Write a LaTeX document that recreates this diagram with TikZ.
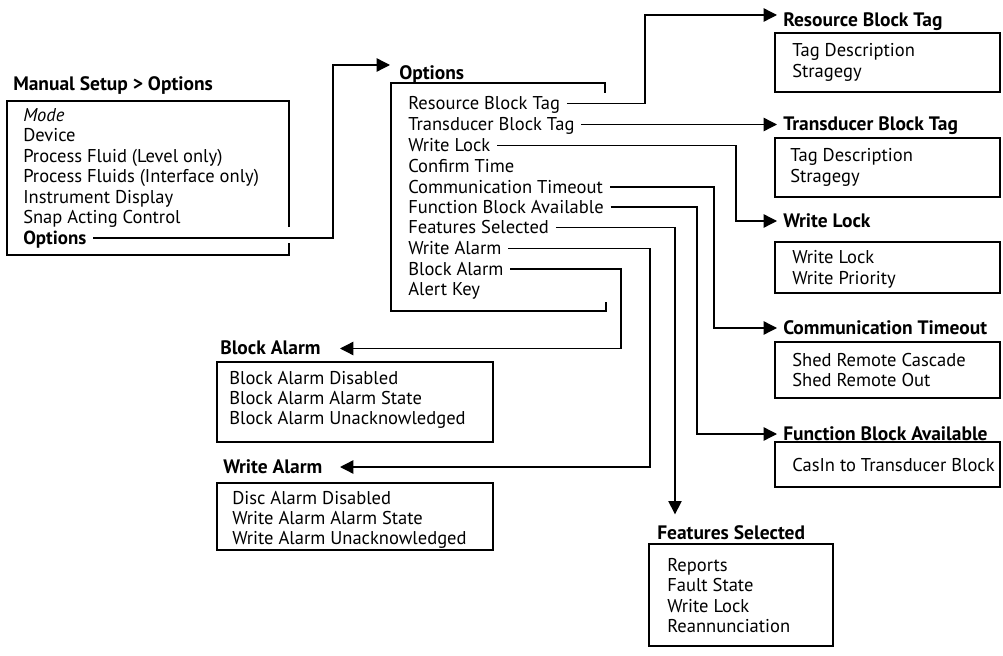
\documentclass[tikz,border=0pt]{standalone}
\usepackage{fontspec}
\setmainfont{PT Sans}
\usetikzlibrary{arrows.meta}
\begin{document}
\begin{tikzpicture}[x=0.75pt,y=-0.75pt,
  txt/.style={anchor=west, inner sep=0pt, text height=9.6pt, text depth=0pt,
    font=\fontsize{13.9}{16}\selectfont},
  head/.style={txt, font=\fontsize{14.6}{16}\selectfont\bfseries},
  frame/.style={line width=1pt},
  conn/.style={line width=1pt, shorten <=5pt},
  arr/.style={conn, -{Triangle[length=10pt,width=10pt]}},
  line join=miter]
\useasboundingbox (0,0) rectangle (1003,656);

% bend points and arrow tip columns
\coordinate (cOpt) at (333,0);
\coordinate (cRBT) at (645,0);
\coordinate (cWL)  at (736,0);
\coordinate (cCT)  at (714,0);
\coordinate (cFBA) at (697,0);
\coordinate (cFS)  at (675,0);
\coordinate (cWA)  at (650,0);
\coordinate (cBA)  at (621,0);
\coordinate (tipR) at (777,0);
\coordinate (tipL) at (340,0);
\coordinate (tipO) at (390,65);

% Manual Setup > Options menu
\node[head] (hMS) at (13,84) {Manual Setup > Options};
\node[txt] (mMode) at (23,115) {\itshape Mode};
\node[txt] (mDev)  at (23,135.5) {Device};
\node[txt] (mPF)   at (23,156) {Process Fluid (Level only)};
\node[txt] (mPFs)  at (23,176.5) {Process Fluids (Interface only)};
\node[txt] (mID)   at (23,197) {Instrument Display};
\node[txt] (mSAC)  at (23,217.5) {Snap Acting Control};
\node[txt,font=\fontsize{14.2}{16}\selectfont\bfseries] (mOpt) at (23,238) {Options};
\draw[frame] (289,227) -- (289,101) -- (7,101) -- (7,255) -- (289,255) -- (289,243);

% Options menu
\node[head] (hOpt) at (399,73.5) {Options};
\node[txt] (oRBT) at (408,103.5) {Resource Block Tag};
\node[txt] (oTBT) at (408,124.5) {Transducer Block Tag};
\node[txt] (oWL)  at (408,145.5) {Write Lock};
\node[txt] (oCfT) at (408,166)   {Confirm Time};
\node[txt] (oCT)  at (408,187)   {Communication Timeout};
\node[txt] (oFBA) at (408,207)   {Function Block Available};
\node[txt] (oFS)  at (408,227.5) {Features Selected};
\node[txt] (oWA)  at (408,248.5) {Write Alarm};
\node[txt] (oBA)  at (408,269)   {Block Alarm};
\node[txt] (oAK)  at (408,289.5) {Alert Key};
\draw[frame] (605,93) -- (605,83) -- (391,83) -- (391,311) -- (606,311) -- (606,302);

% Resource Block Tag
\node[head] (hRBT) at (783,20) {Resource Block Tag};
\draw[frame] (775,33) rectangle (1000,92);
\node[txt] (rb1) at (792,50) {Tag Description};
\node[txt] (rb2) at (792,71) {Stragegy};

% Transducer Block Tag
\node[head] (hTBT) at (783,124.5) {Transducer Block Tag};
\draw[frame] (775,138) rectangle (1000,197);
\node[txt] (tb1) at (790,155) {Tag Description};
\node[txt] (tb2) at (790,176) {Stragegy};

% Write Lock
\node[head] (hWL) at (783,221) {Write Lock};
\draw[frame] (775,242) rectangle (1000,293);
\node[txt] (wl1) at (792,257) {Write Lock};
\node[txt] (wl2) at (792,278) {Write Priority};

% Communication Timeout
\node[head] (hCT) at (783,328) {Communication Timeout};
\draw[frame] (775,342) rectangle (1000,398);
\node[txt] (ct1) at (792,360) {Shed Remote Cascade};
\node[txt] (ct2) at (792,380.5) {Shed Remote Out};

% Function Block Available
\node[head] (hFBA) at (783,434) {Function Block Available};
\draw[frame] (775,442) rectangle (1000,487);
\node[txt] (fb1) at (792,465) {CasIn to Transducer Block};

% Features Selected
\node[head] (hFS) at (657,533) {Features Selected};
\draw[frame] (649,544) rectangle (833,646);
\node[txt] (fs1) at (667,565)   {Reports};
\node[txt] (fs2) at (667,585.5) {Fault State};
\node[txt] (fs3) at (667,606)   {Write Lock};
\node[txt] (fs4) at (667,626.5) {Reannunciation};

% Block Alarm
\node[head] (hBA) at (220,348.5) {Block Alarm};
\draw[frame] (217,362) rectangle (493,442);
\node[txt] (ba1) at (229,378) {Block Alarm Disabled};
\node[txt] (ba2) at (229,398) {Block Alarm Alarm State};
\node[txt] (ba3) at (229,418) {Block Alarm Unacknowledged};

% Write Alarm
\node[head] (hWA) at (223,467) {Write Alarm};
\draw[frame] (217,483) rectangle (493,550);
\node[txt] (wa1) at (232,498) {Disc Alarm Disabled};
\node[txt] (wa2) at (232,518) {Write Alarm Alarm State};
\node[txt] (wa3) at (232,538) {Write Alarm Unacknowledged};

% connectors
\draw[arr] (mOpt.east) -- (mOpt.east -| cOpt) |- (tipO);
\draw[arr] (oRBT.east) -- (oRBT.east -| cRBT) |- (tipR |- 0,15);
\draw[arr] (oTBT.east) -- (oTBT.east -| tipR);
\draw[arr] (oWL.east)  -| (cWL |- hWL.west)  -- (hWL.west -| tipR);
\draw[arr] (oCT.east)  -| (cCT |- hCT.west)  -- (hCT.west -| tipR);
\draw[arr] (oFBA.east) -| (cFBA |- hFBA.west) -- (hFBA.west -| tipR);
\path (hFS.north -| cFS) ++(0,-12) coordinate (tipFS);
\draw[arr] (oFS.east)  -| (tipFS);
\draw[arr] (oWA.east)  -| (cWA |- hWA.east)  -- (hWA.east -| tipL);
\draw[arr] (oBA.east)  -| (cBA |- hBA.east)  -- (hBA.east -| tipL);
\end{tikzpicture}
\end{document}
